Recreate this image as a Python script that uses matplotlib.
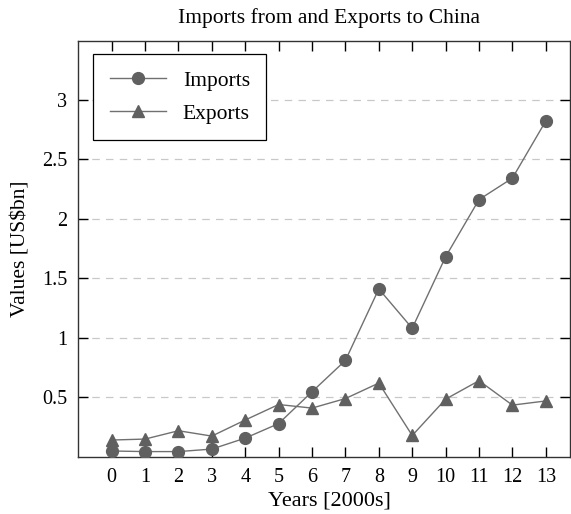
import numpy as np
import matplotlib
matplotlib.use("Agg")
import matplotlib.pyplot as plt

# ==========================
# Data
# ==========================
years = list(range(14))
imports = [0.05, 0.045, 0.045, 0.066, 0.158, 0.28, 0.547, 0.81,
           1.41, 1.08, 1.68, 2.16, 2.34, 2.82]
exports = [0.142, 0.15, 0.22, 0.175, 0.31, 0.44, 0.41, 0.49,
           0.62, 0.18, 0.485, 0.64, 0.435, 0.47]
yticks = [0.5, 1, 1.5, 2, 2.5, 3]
ytick_labels = ["0.5", "1", "1.5", "2", "2.5", "3"]

plt.rcParams['font.family'] = ['Liberation Serif', 'DejaVu Serif']

fig = plt.figure(figsize=(5.71, 5.14), dpi=100)
ax = fig.add_axes([0.137, 0.111, 0.861, 0.809])

line_col = "#707070"
mark_col = "#606060"

ax.plot(years, imports, color=line_col, linewidth=1.0, marker="o",
        markersize=8.5, markerfacecolor=mark_col, markeredgecolor=mark_col,
        label="Imports", zorder=3)
ax.plot(years, exports, color=line_col, linewidth=1.0, marker="^",
        markersize=8, markerfacecolor=mark_col, markeredgecolor=mark_col,
        label="Exports", zorder=3)

# dashed horizontal reference lines
for yv in yticks:
    ax.axhline(yv, color="#c8c8c8", linestyle=(0, (6, 5)), linewidth=0.9, zorder=1)

ax.set_xlim(-1, 13.72)
ax.set_ylim(0, 3.49)
ax.set_xticks(years)
ax.set_xticklabels([str(y) for y in years])
ax.set_yticks(yticks)
ax.set_yticklabels(ytick_labels)

ax.tick_params(axis="both", direction="in", top=True, right=True,
               length=7, width=1.0, labelsize=14.5, colors="black", pad=8)
for sp in ax.spines.values():
    sp.set_linewidth(1.0)
    sp.set_color("#333333")

# title and x label are centred on the data range, not the axes box
ax.set_xlabel("Years [2000s]", fontsize=16, labelpad=3, x=0.51)
ax.set_ylabel("Values [US$bn]", fontsize=15.5, labelpad=8)
ax.set_title("Imports from and Exports to China", fontsize=15.5, pad=13, x=0.51)

leg = ax.legend(loc="upper left", bbox_to_anchor=(0.031, 0.968), fontsize=15.5,
                frameon=True, fancybox=False, edgecolor="black",
                handlelength=2.6, handletextpad=0.8, borderpad=0.75,
                labelspacing=0.6, borderaxespad=0)
leg.get_frame().set_linewidth(0.9)
leg.get_frame().set_alpha(1)

plt.savefig("out.png", dpi=100)
